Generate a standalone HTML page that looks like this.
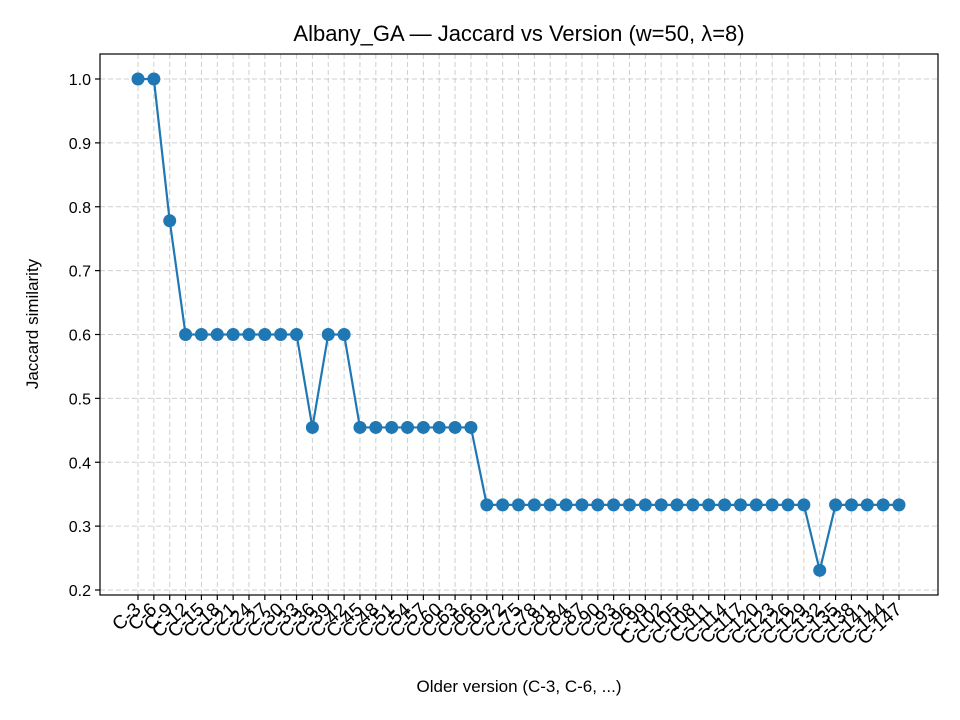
<!DOCTYPE html>
<html><head><meta charset="utf-8"><style>
body{margin:0;background:#fff;}
svg{display:block;font-family:"Liberation Sans","DejaVu Sans",sans-serif;}
</style></head><body>
<svg id="chart" width="960" height="720" viewBox="0 0 960 720">
<rect x="0" y="0" width="960" height="720" fill="#fff"/>
<text x="519" y="41" font-size="22" text-anchor="middle" fill="#000">Albany_GA — Jaccard vs Version (w=50, λ=8)</text>
<g id="grid"></g>
<g id="yaxis"></g>
<g id="xaxis"></g>
<g id="series"></g>
<rect x="100" y="54" width="838" height="541" fill="none" stroke="#000" stroke-width="1.2"/>
<text x="519" y="692" font-size="17" text-anchor="middle">Older version (C-3, C-6, ...)</text>
<text transform="translate(38,324) rotate(-90)" font-size="17" text-anchor="middle">Jaccard similarity</text>
</svg>
<script>
const categories = [];
for (let k = 3; k <= 147; k += 3) categories.push('C-' + k);
const values = [1.0,1.0,0.778,0.6,0.6,0.6,0.6,0.6,0.6,0.6,0.6,0.4545,0.6,0.6,
0.4545,0.4545,0.4545,0.4545,0.4545,0.4545,0.4545,0.4545,
0.3333,0.3333,0.3333,0.3333,0.3333,0.3333,0.3333,0.3333,0.3333,0.3333,0.3333,0.3333,0.3333,0.3333,0.3333,0.3333,0.3333,0.3333,0.3333,0.3333,0.3333,
0.2308,0.3333,0.3333,0.3333,0.3333,0.3333];
const yTicks = [0.2,0.3,0.4,0.5,0.6,0.7,0.8,0.9,1.0];

const NS='http://www.w3.org/2000/svg';
const L=100,R=938,T=54,B=595;
const x0=138, x1=899;
function xs(i){return x0+(x1-x0)*i/(categories.length-1);}
function ys(v){return 590+(79-590)*(v-0.2)/0.8;}
function mk(tag,attrs,parent){const e=document.createElementNS(NS,tag);for(const k in attrs)e.setAttribute(k,attrs[k]);document.getElementById(parent).appendChild(e);return e;}

yTicks.forEach(t=>{
  const y=ys(t);
  const g=mk('line',{x1:L,x2:R,y1:y,y2:y,stroke:'#b0b0b0','stroke-width':1,'stroke-dasharray':'5,3',opacity:0.6},'grid');
  
  
  const tk=mk('line',{x1:L-5,x2:L,y1:y,y2:y,stroke:'#000','stroke-width':1.2},'yaxis');
  
  
  const tx=mk('text',{x:L-9,y:y+6,'font-size':16,'text-anchor':'end'},'yaxis');
  tx.textContent=t.toFixed(1);
  
  
});
categories.forEach((c,i)=>{
  const x=xs(i);
  const g=mk('line',{x1:x,x2:x,y1:T,y2:B,stroke:'#b0b0b0','stroke-width':1,'stroke-dasharray':'5,3',opacity:0.6},'grid');
  
  
  const tk=mk('line',{x1:x,x2:x,y1:B,y2:B+5,stroke:'#000','stroke-width':1.2},'xaxis');
  
  
  const tx=mk('text',{transform:`translate(${x+4},${B+16}) rotate(-42)`,'font-size':19,'text-anchor':'end'},'xaxis');
  tx.textContent=c;
  
  
});
const pts=values.map((v,i)=>xs(i)+','+ys(v)).join(' ');
const pl=mk('polyline',{points:pts,fill:'none',stroke:'#1f77b4','stroke-width':2.2},'series');


values.forEach((v,i)=>{
  const c=mk('circle',{cx:xs(i),cy:ys(v),r:6.5,fill:'#1f77b4'},'series');
  
  
});
</script>
</body></html>
